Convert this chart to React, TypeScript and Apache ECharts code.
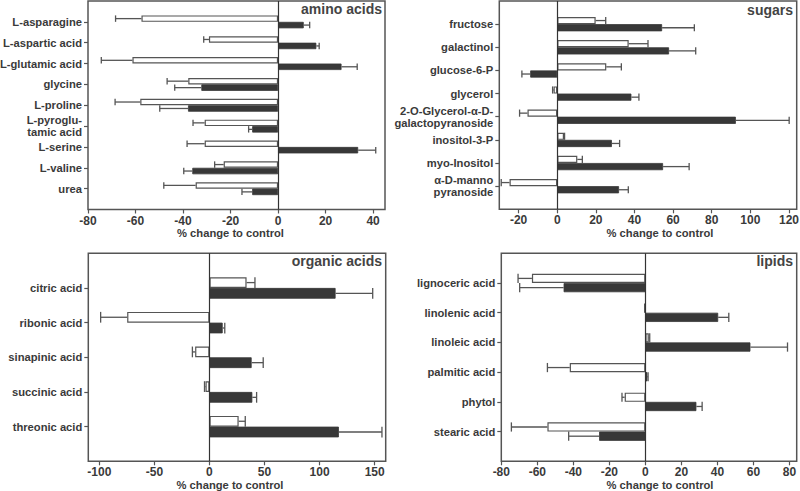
import React, { useEffect, useRef } from 'react';
import * as echarts from 'echarts';

// ---------- data ----------
const aminoNames = ['L-asparagine', 'L-aspartic acid', 'L-glutamic acid', 'glycine', 'L-proline', 'L-pyroglu-\ntamic acid', 'L-serine', 'L-valine', 'urea'];
const aminoWhite = [-57.5, -29.1, -61.3, -37.8, -58.0, -30.9, -30.9, -22.9, -34.7];
const aminoWhiteErr = [10.9, 2.2, 13.1, 8.9, 10.6, 4.9, 7.4, 3.8, 13.4];
const aminoDark = [10.8, 16.1, 26.7, -32.3, -37.9, -10.9, 33.7, -36.1, -10.9];
const aminoDarkErr = [2.5, 1.2, 6.6, 11.2, 11.9, 1.5, 7.4, 3.6, 4.3];
const aminoTicks = [-80, -60, -40, -20, 0, 20, 40];

const sugarNames = ['fructose', 'galactinol', 'glucose-6-P', 'glycerol', '2-O-Glycerol-α-D-\ngalactopyranoside', 'inositol-3-P', 'myo-Inositol', 'α-D-manno\npyranoside'];
const sugarWhite = [19.9, 37.0, 25.4, -1.9, -15.4, 3.5, 10.4, -24.7];
const sugarWhiteErr = [5.2, 10.0, 7.8, 0.5, 4.1, 0.3, 2.6, 4.3];
const sugarDark = [54.3, 57.9, -14.0, 38.4, 92.5, 28.3, 54.8, 32.0];
const sugarDarkErr = [16.7, 13.8, 4.3, 3.9, 27.6, 4.0, 13.5, 4.8];
const sugarTicks = [-20, 0, 20, 40, 60, 80, 100, 120];

const organicNames = ['citric acid', 'ribonic acid', 'sinapinic acid', 'succinic acid', 'threonic acid'];
const organicWhite = [33.7, -74.7, -13.0, -3.6, 26.5];
const organicWhiteErr = [7.6, 24.1, 2.5, 0.9, 6.0];
const organicDark = [114.5, 12.0, 38.3, 38.9, 117.5];
const organicDarkErr = [33.7, 1.9, 10.5, 3.9, 39.1];
const organicTicks = [-100, -50, 0, 50, 100, 150];

const lipidNames = ['lignoceric acid', 'linolenic acid', 'linoleic acid', 'palmitic acid', 'phytol', 'stearic acid'];
const lipidWhite = [-63.0, -0.4, 1.9, -42.0, -11.5, -54.4];
const lipidWhiteErr = [7.7, 0, 0.5, 12.4, 1.5, 20.0];
const lipidDark = [-45.4, 40.4, 58.3, 1.1, 28.3, -25.7];
const lipidDarkErr = [24.4, 5.9, 20.6, 0.4, 3.2, 16.9];
const lipidTicks = [-80, -60, -40, -20, 0, 20, 40, 60, 80];

const xTitle = '% change to control';

// ---------- styling / layout ----------
const FONT = 'Liberation Sans, Arial, Helvetica, sans-serif';
const TEXT = '#3a3a3a';
const LINE = '#555555';
const DARK = '#383838';
const BAR_FRAC = 0.31;

interface Panel {
  title: string;
  names: string[];
  white: number[];
  whiteErr: number[];
  dark: number[];
  darkErr: number[];
  ticks: number[];
  min: number;
  max: number;
  grid: { left: number; top: number; width: number; height: number };
  titlePos: { right: number; top: number };
  namePad: number[];
}

const panels: Panel[] = [
  {
    title: 'amino acids', names: aminoNames, white: aminoWhite, whiteErr: aminoWhiteErr,
    dark: aminoDark, darkErr: aminoDarkErr, ticks: aminoTicks, min: -80, max: 45,
    grid: { left: 88, top: 1, width: 297, height: 208.5 },
    titlePos: { right: 418, top: 2 }, namePad: [0, 12, 0, 0],
  },
  {
    title: 'sugars', names: sugarNames, white: sugarWhite, whiteErr: sugarWhiteErr,
    dark: sugarDark, darkErr: sugarDarkErr, ticks: sugarTicks, min: -30, max: 124,
    grid: { left: 499.3, top: 1, width: 297.4, height: 208.3 },
    titlePos: { right: 7, top: 3 }, namePad: [0, 0, 0, 24],
  },
  {
    title: 'organic acids', names: organicNames, white: organicWhite, whiteErr: organicWhiteErr,
    dark: organicDark, darkErr: organicDarkErr, ticks: organicTicks, min: -110, max: 160,
    grid: { left: 88.3, top: 253.3, width: 297.4, height: 208 },
    titlePos: { right: 418, top: 254 }, namePad: [0, 14, 0, 0],
  },
  {
    title: 'lipids', names: lipidNames, white: lipidWhite, whiteErr: lipidWhiteErr,
    dark: lipidDark, darkErr: lipidDarkErr, ticks: lipidTicks, min: -80, max: 84,
    grid: { left: 501.3, top: 253.3, width: 295.4, height: 208 },
    titlePos: { right: 7, top: 254 }, namePad: [0, 0, 0, 22],
  },
];

function errRenderer(sign: number) {
  return (_params: any, api: any) => {
    const v = api.value(0) as number;
    const c = api.value(1) as number;
    const e = api.value(2) as number;
    const slot = api.size([0, 1])[1] as number;
    const w = slot * BAR_FRAC;
    const p0 = api.coord([v, c]);
    const end = v >= 0 ? v + e : v - e;
    const p1 = api.coord([end, c]);
    const y = p0[1] + (sign * w) / 2;
    const style = { stroke: LINE, lineWidth: 1.3, fill: 'none' };
    return {
      type: 'group',
      children: [
        { type: 'line', shape: { x1: p0[0], y1: y, x2: p1[0], y2: y }, style },
        { type: 'line', shape: { x1: p1[0], y1: y - w / 2, x2: p1[0], y2: y + w / 2 }, style },
      ],
    };
  };
}

function buildOption() {
  const grid: any[] = [];
  const xAxis: any[] = [];
  const yAxis: any[] = [];
  const series: any[] = [];
  const title: any[] = [];

  panels.forEach((p, i) => {
    const n = p.names.length;
    grid.push({
      ...p.grid,
      show: true,
      borderColor: LINE,
      borderWidth: 1.5,
      backgroundColor: 'transparent',
      containLabel: false,
      outerBoundsMode: 'none',
    });
    title.push({
      text: p.title,
      right: p.titlePos.right,
      top: p.titlePos.top,
      padding: 0,
      textStyle: { fontSize: 14, fontWeight: 'bold', color: '#444', fontFamily: FONT },
    });
    xAxis.push({
      type: 'value',
      gridIndex: i,
      min: p.min,
      max: p.max,
      axisLine: { show: false, onZero: false },
      splitLine: { show: false },
      axisTick: { show: true, length: 4, customValues: p.ticks, lineStyle: { color: LINE, width: 1.2 } },
      axisLabel: {
        customValues: p.ticks,
        margin: 5,
        fontSize: 12,
        fontWeight: 'bold',
        color: TEXT,
        fontFamily: FONT,
      },
      name: xTitle,
      nameLocation: 'middle',
      nameGap: 17,
      nameTextStyle: { fontSize: 11.2, fontWeight: 'bold', color: TEXT, fontFamily: FONT, padding: p.namePad },
    });
    yAxis.push({
      type: 'category',
      gridIndex: i,
      data: ['', ...p.names, ''],
      boundaryGap: false,
      inverse: true,
      position: 'left',
      axisLine: { show: false, onZero: false },
      splitLine: { show: false },
      axisTick: {
        show: true,
        length: 4,
        interval: (idx: number) => idx > 0 && idx < n + 1,
        lineStyle: { color: LINE, width: 1.2 },
      },
      axisLabel: {
        interval: 0,
        margin: 6,
        fontSize: 11.2,
        fontWeight: 'bold',
        color: TEXT,
        fontFamily: FONT,
        lineHeight: 12,
      },
    });
    series.push({
      type: 'bar',
      name: 'white',
      xAxisIndex: i,
      yAxisIndex: i,
      data: [null, ...p.white, null],
      barWidth: `${BAR_FRAC * 100}%`,
      barGap: '0%',
      itemStyle: { color: '#ffffff', borderColor: LINE, borderWidth: 1.2 },
      markLine: {
        silent: true,
        symbol: ['none', 'none'],
        label: { show: false },
        lineStyle: { color: '#333', width: 1.2, type: 'solid' },
        data: [{ xAxis: 0 }],
      },
      z: 2,
    });
    series.push({
      type: 'bar',
      name: 'dark',
      xAxisIndex: i,
      yAxisIndex: i,
      data: [null, ...p.dark, null],
      barWidth: `${BAR_FRAC * 100}%`,
      barGap: '0%',
      itemStyle: { color: DARK, borderColor: DARK, borderWidth: 0.8 },
      z: 2,
    });
    series.push({
      type: 'custom',
      xAxisIndex: i,
      yAxisIndex: i,
      encode: { x: 0, y: 1 },
      data: p.white.map((v, k) => [v, k + 1, p.whiteErr[k]]),
      renderItem: errRenderer(-1),
      z: 3,
      silent: true,
    });
    series.push({
      type: 'custom',
      xAxisIndex: i,
      yAxisIndex: i,
      encode: { x: 0, y: 1 },
      data: p.dark.map((v, k) => [v, k + 1, p.darkErr[k]]),
      renderItem: errRenderer(1),
      z: 3,
      silent: true,
    });
  });

  return {
    animation: false,
    backgroundColor: '#ffffff',
    textStyle: { fontFamily: FONT },
    title,
    grid,
    xAxis,
    yAxis,
    series,
  };
}

export default function App() {
  const ref = useRef<HTMLDivElement>(null);
  useEffect(() => {
    if (!ref.current) return;
    const chart = echarts.init(ref.current, undefined, { renderer: 'svg' });
    chart.setOption(buildOption() as any);
    return () => chart.dispose();
  }, []);
  return (
    <div
      ref={ref}
      style={{ position: 'fixed', left: 0, top: 0, width: 800, height: 491, background: '#fff' }}
    />
  );
}
